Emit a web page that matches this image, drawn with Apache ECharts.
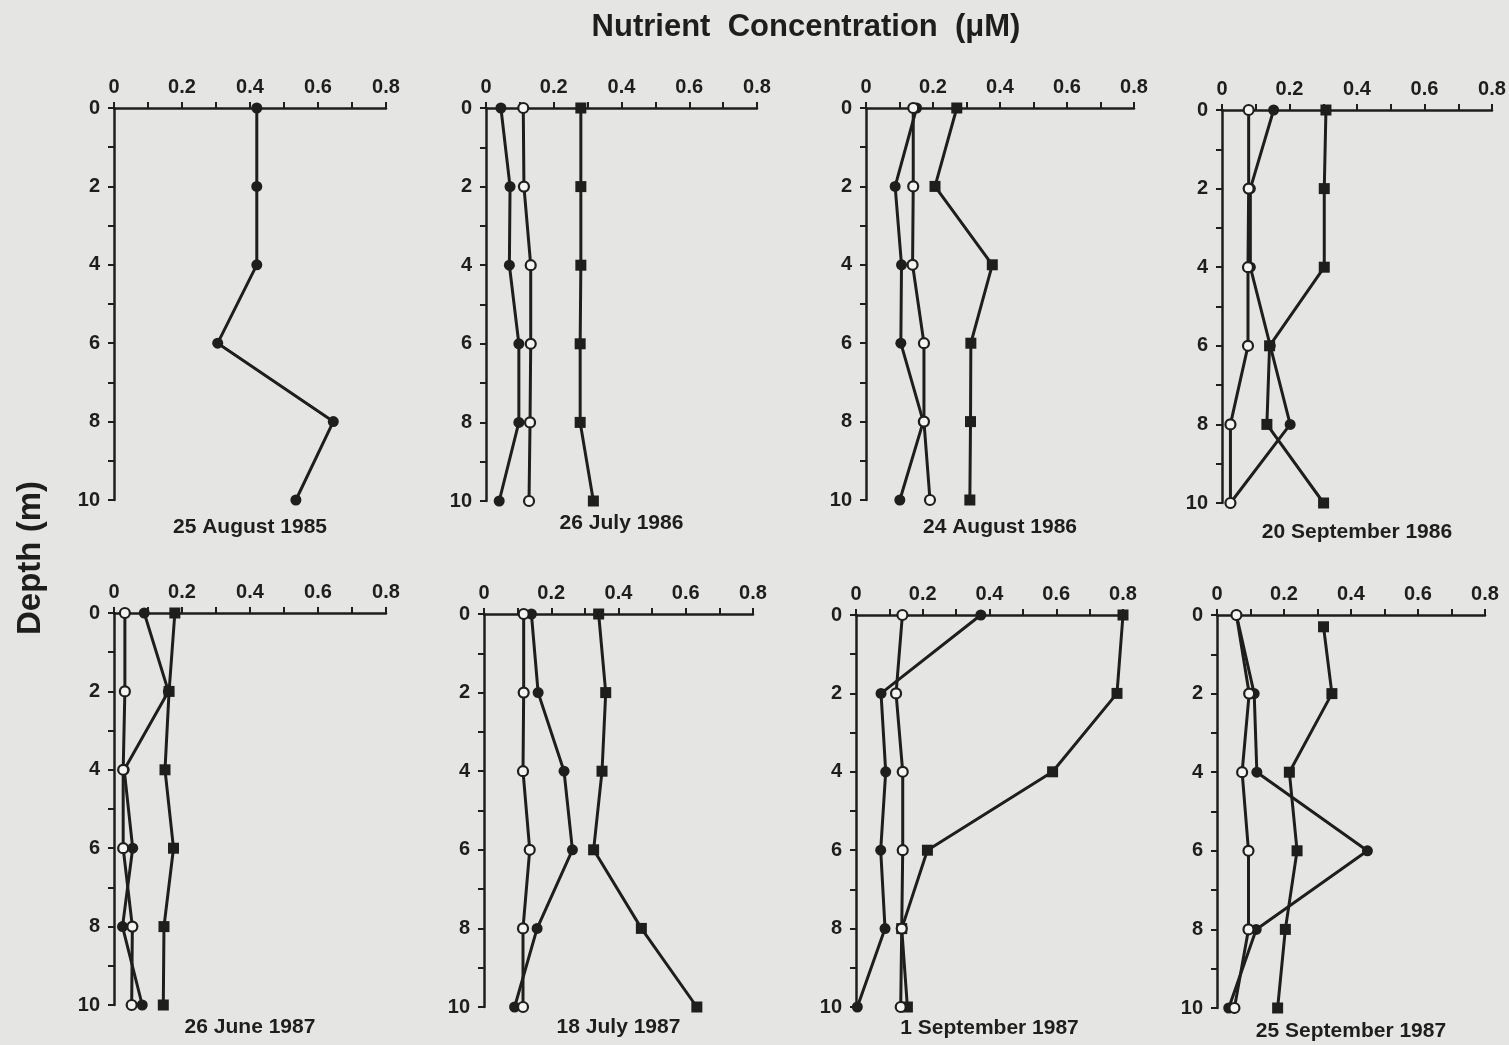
<!DOCTYPE html>
<html>
<head>
<meta charset="utf-8">
<title>Nutrient Concentration Profiles</title>
<script src="https://cdn.jsdelivr.net/npm/echarts@6/dist/echarts.min.js"></script>
<style>
  html, body { margin: 0; padding: 0; background: #e5e5e3; }
  #chart { width: 1509px; height: 1045px; }
</style>
</head>
<body>
<div id="chart"></div>
<script>
// Sampling depths (m) shared by every profile
const depths = [0, 2, 4, 6, 8, 10];
const depthsSep87Squares = [0.3, 2, 4, 6, 8, 10];

// Axis tick labels
const concTicks = ['0', '0.2', '0.4', '0.6', '0.8'];
const depthTicks = ['0', '2', '4', '6', '8', '10'];

// Panel captions (sampling dates)
const dates = [
  '25 August 1985', '26 July 1986', '24 August 1986', '20 September 1986',
  '26 June 1987', '18 July 1987', '1 September 1987', '25 September 1987'
];

// Concentrations (µM): filled circles, open circles, filled squares
const filled = [
  [0.42, 0.42, 0.42, 0.305, 0.645, 0.535],
  [0.044, 0.071, 0.069, 0.097, 0.097, 0.039],
  [0.151, 0.087, 0.106, 0.104, 0.171, 0.101],
  [0.153, 0.084, 0.084, 0.143, 0.202, 0.025],
  [0.089, 0.16, 0.03, 0.055, 0.025, 0.083],
  [0.141, 0.161, 0.238, 0.263, 0.158, 0.091],
  [0.374, 0.075, 0.089, 0.074, 0.087, 0.004],
  [0.058, 0.111, 0.119, 0.449, 0.117, 0.035]
];
const open = [
  null,
  [0.110, 0.112, 0.132, 0.132, 0.130, 0.127],
  [0.141, 0.141, 0.139, 0.173, 0.173, 0.191],
  [0.079, 0.079, 0.077, 0.077, 0.025, 0.025],
  [0.032, 0.032, 0.027, 0.027, 0.054, 0.052],
  [0.118, 0.118, 0.116, 0.136, 0.116, 0.116],
  [0.139, 0.120, 0.140, 0.140, 0.137, 0.134],
  [0.058, 0.096, 0.075, 0.094, 0.094, 0.052]
];
const squares = [
  null,
  [0.28, 0.28, 0.28, 0.278, 0.278, 0.317],
  [0.271, 0.206, 0.377, 0.313, 0.312, 0.310],
  [0.308, 0.303, 0.303, 0.141, 0.133, 0.301],
  [0.179, 0.162, 0.150, 0.175, 0.147, 0.145],
  [0.341, 0.362, 0.351, 0.326, 0.468, 0.633],
  [0.80, 0.782, 0.589, 0.214, 0.137, 0.154],
  [0.318, 0.343, 0.216, 0.239, 0.204, 0.181]
];
const squareDepths = [depths, depths, depths, depths, depths, depths, depths, depthsSep87Squares];

// Plot frames [left, top, width, height] in pixels
const frames = [
  [114, 108, 272, 392], [486, 108, 271, 393], [866, 108, 268, 392], [1222, 110, 270, 393],
  [114, 613, 272, 392], [484, 614, 269, 393], [856, 615, 267, 392], [1217, 615, 268, 393]
];
const captionY = [527, 523, 527, 532, 1027, 1027, 1028, 1031];

const INK = '#1e1e1e';
const FONT = '"Liberation Sans", Arial, Helvetica, sans-serif';

function pairs(xs, ys) { return xs.map((v, i) => [v, ys[i]]); }

const grid = [], xAxis = [], yAxis = [], series = [], graphic = [];

frames.forEach((f, i) => {
  grid.push({ left: f[0], top: f[1], width: f[2], height: f[3], containLabel: false });
  xAxis.push({
    type: 'value', gridIndex: i, position: 'top', min: 0, max: 0.8, interval: 0.2,
    axisLine: { show: true, onZero: false, lineStyle: { color: INK, width: 2.5 } },
    axisTick: { show: true, inside: false, length: 6, lineStyle: { color: INK, width: 2 } },
    minorTick: { show: true, splitNumber: 2, length: 6, lineStyle: { color: INK, width: 2 } },
    splitLine: { show: false },
    axisLabel: {
      margin: 11, color: INK, fontFamily: FONT, fontWeight: 'bold', fontSize: 20,
      formatter: v => concTicks[Math.round(v / 0.2)]
    }
  });
  yAxis.push({
    type: 'value', gridIndex: i, inverse: true, min: 0, max: 10, interval: 2,
    axisLine: { show: true, onZero: false, lineStyle: { color: INK, width: 2.5 } },
    axisTick: { show: true, inside: false, length: 6, lineStyle: { color: INK, width: 2 } },
    minorTick: { show: true, splitNumber: 2, length: 6, lineStyle: { color: INK, width: 2 } },
    splitLine: { show: false },
    axisLabel: {
      margin: 14, color: INK, fontFamily: FONT, fontWeight: 'bold', fontSize: 20,
      formatter: v => depthTicks[Math.round(v / 2)]
    }
  });

  const common = { type: 'line', xAxisIndex: i, yAxisIndex: i, clip: false, silent: true,
    animation: false, lineStyle: { color: INK, width: 3 } };

  series.push(Object.assign({}, common, {
    name: 'filled-' + i, data: pairs(filled[i], depths), z: 3,
    symbol: 'circle', symbolSize: 11, itemStyle: { color: INK, borderWidth: 0 }
  }));
  if (squares[i]) {
    series.push(Object.assign({}, common, {
      name: 'square-' + i, data: pairs(squares[i], squareDepths[i]), z: 4,
      symbol: 'rect', symbolSize: 11, itemStyle: { color: INK, borderWidth: 0 }
    }));
  }
  if (open[i]) {
    series.push(Object.assign({}, common, {
      name: 'open-' + i, data: pairs(open[i], depths), z: 5,
      symbol: 'circle', symbolSize: 10, showAllSymbol: true,
      itemStyle: { color: '#f4f4f2', borderColor: INK, borderWidth: 2.2 }
    }));
  }

  graphic.push({
    type: 'text', x: f[0] + f[2] / 2, y: captionY[i], silent: true,
    style: { text: dates[i], font: 'bold 21px ' + FONT, fill: INK,
      align: 'center', verticalAlign: 'middle', textAlign: 'center', textVerticalAlign: 'middle' }
  });
});

// Shared axis titles
graphic.push({
  type: 'text', x: 806, y: 27, silent: true,
  style: { text: 'Nutrient  Concentration  (\u03bcM)', font: 'bold 31px ' + FONT, fill: INK,
    align: 'center', verticalAlign: 'middle', textAlign: 'center', textVerticalAlign: 'middle' }
});
graphic.push({
  type: 'text', x: 31, y: 558, rotation: Math.PI / 2, silent: true,
  style: { text: 'Depth (m)', font: 'bold 33px ' + FONT, fill: INK,
    align: 'center', verticalAlign: 'middle', textAlign: 'center', textVerticalAlign: 'middle' }
});

const chart = echarts.init(document.getElementById('chart'), null, { renderer: 'canvas' });
chart.setOption({
  backgroundColor: '#e5e5e3',
  animation: false,
  grid, xAxis, yAxis, series, graphic
});
</script>
</body>
</html>
